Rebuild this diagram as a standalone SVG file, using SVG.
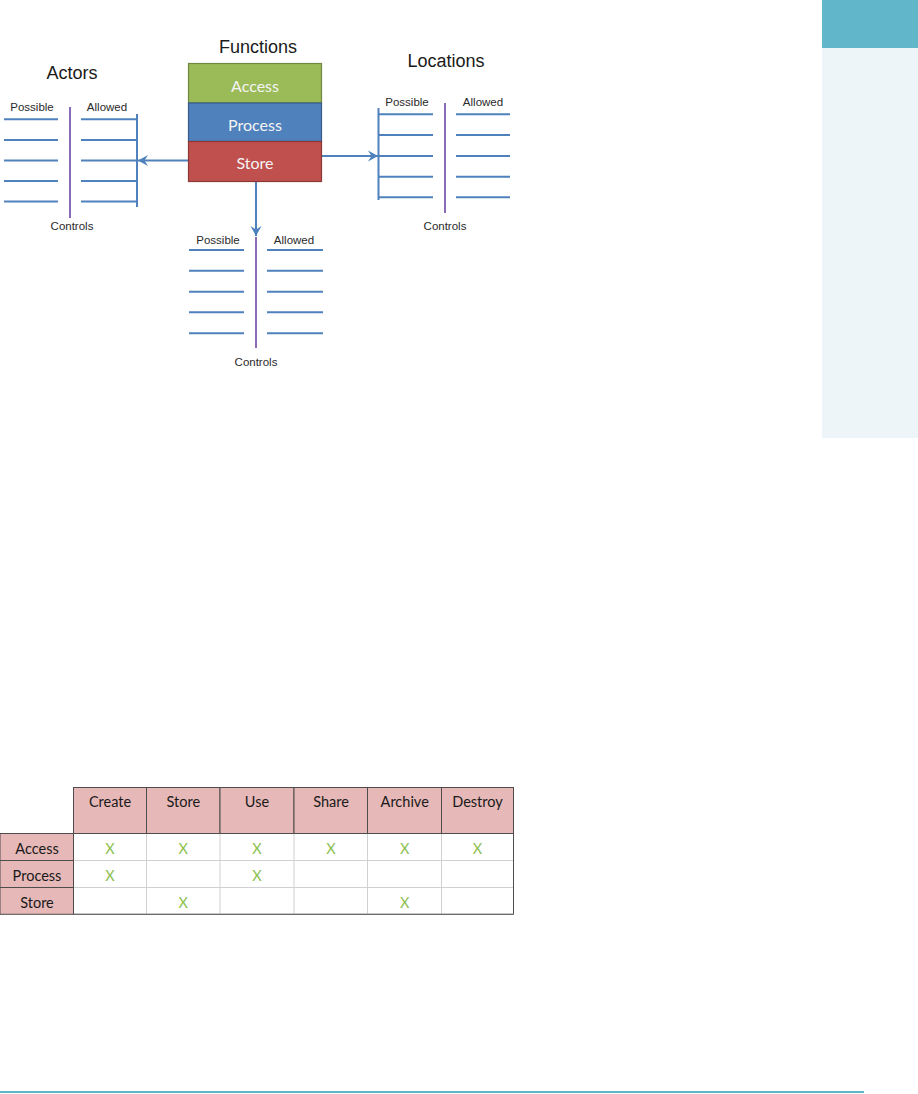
<svg xmlns="http://www.w3.org/2000/svg" width="918" height="1094" viewBox="0 0 918 1094">
<style>
.title{font-family:"Liberation Sans",Arial,sans-serif;font-size:18px;fill:#1a1a1a;text-anchor:middle}
.lab{font-family:"Liberation Sans",Arial,sans-serif;font-size:11.5px;fill:#2a2a2a;text-anchor:middle}
.bl{stroke:#4F81BD;stroke-width:2;fill:none}
.pu{stroke:#8A6BB8;stroke-width:2;fill:none}
.boxt{font-family:Lato,"Open Sans",sans-serif;font-size:16px;fill:#F4F4F4;text-anchor:middle}
.tt{font-family:Lato,"Open Sans",sans-serif;font-size:14.5px;fill:#1a1a1a;text-anchor:middle}
.x{font-family:Lato,"Open Sans",sans-serif;font-size:14.5px;fill:#8DBF4F;text-anchor:middle}
.hd{fill:#E6B8B7;stroke:#4D4D4D;stroke-width:1}
.cell{fill:#FFFFFF;stroke:#D0D0D0;stroke-width:1}
.conn{stroke:#4F81BD;stroke-width:2;fill:none;marker-end:url(#ah)}
</style>
<defs>
<marker id="ah" markerUnits="userSpaceOnUse" markerWidth="14" markerHeight="14" refX="11" refY="7" orient="auto">
<path d="M1,1.5 L11,7 L1,12.5 L4.5,7 Z" fill="#4F81BD"/>
</marker>
</defs>
<rect width="918" height="1094" fill="#FFFFFF"/>
<g id="sidebar">
<rect x="822" y="0" width="96" height="48" fill="#62B6C9"/>
<rect x="822" y="48" width="96" height="390" fill="#EEF5F8"/>
</g>
<line x1="0" y1="1092" x2="864" y2="1092" stroke="#62B6C9" stroke-width="2"/>

<g id="connectors">
<line class="conn" x1="189" y1="160.5" x2="138" y2="160.5"/>
<line class="conn" x1="322" y1="156" x2="378" y2="156"/>
<line class="conn" x1="256" y1="182" x2="256" y2="236"/>
</g>

<g id="functions">
<text class="title" x="258" y="53">Functions</text>
<rect x="188.5" y="63.5" width="133" height="39.5" fill="#9BBB59" stroke="#71893F" stroke-width="1.2"/>
<text class="boxt" x="255" y="91.5">Access</text>
<rect x="188.5" y="103" width="133" height="38.5" fill="#4F81BD" stroke="#385D8A" stroke-width="1.2"/>
<text class="boxt" x="255" y="130.5">Process</text>
<rect x="188.5" y="141.5" width="133" height="40" fill="#C0504D" stroke="#8C3836" stroke-width="1.2"/>
<text class="boxt" x="255" y="169">Store</text>
</g>

<g id="actors">
<text class="title" x="72" y="79">Actors</text>
<text class="lab" x="32" y="111">Possible</text>
<text class="lab" x="107" y="111">Allowed</text>
<path class="bl" d="M4,119.3H58M4,140H58M4,160.5H58M4,181H58M4,201.5H58"/>
<path class="bl" d="M81,119.3H137M81,140H137M81,160.5H137M81,181H137M81,201.5H137M137,114V207"/>
<line class="pu" x1="70" y1="107" x2="70" y2="218"/>
<text class="lab" x="72" y="230">Controls</text>
</g>

<g id="locations">
<text class="title" x="446" y="67">Locations</text>
<text class="lab" x="407" y="106">Possible</text>
<text class="lab" x="483" y="106">Allowed</text>
<path class="bl" d="M378.5,108V200M378.5,114.3H433M378.5,135H433M378.5,156H433M378.5,176.7H433M378.5,197.3H433"/>
<path class="bl" d="M456,114.3H510M456,135H510M456,156H510M456,176.7H510M456,197.3H510"/>
<line class="pu" x1="445" y1="103" x2="445" y2="213"/>
<text class="lab" x="445" y="230">Controls</text>
</g>

<g id="bottom-controls">
<text class="lab" x="218" y="244">Possible</text>
<text class="lab" x="294" y="244">Allowed</text>
<path class="bl" d="M189,250H244M189,270.7H244M189,291.7H244M189,312.3H244M189,333.3H244"/>
<path class="bl" d="M267,250H323M267,270.7H323M267,291.7H323M267,312.3H323M267,333.3H323"/>
<line class="pu" x1="256" y1="237" x2="256" y2="348"/>
<text class="lab" x="256" y="366">Controls</text>
</g>

<g id="table">
<rect class="cell" x="73.5" y="833.5" width="440" height="80.5"/>
<path d="M73.5,860.5H513.5M73.5,887.5H513.5M146.5,833.5V914M220,833.5V914M294,833.5V914M367.5,833.5V914M441.5,833.5V914" stroke="#D0D0D0" stroke-width="1"/>
<path d="M513.5,833.5V914.3M73.5,914.3H513.5" stroke="#4D4D4D" stroke-width="1"/>
<rect class="hd" x="73.5" y="787.5" width="73" height="46"/>
<rect class="hd" x="146.5" y="787.5" width="73.5" height="46"/>
<rect class="hd" x="220" y="787.5" width="74" height="46"/>
<rect class="hd" x="294" y="787.5" width="73.5" height="46"/>
<rect class="hd" x="367.5" y="787.5" width="74" height="46"/>
<rect class="hd" x="441.5" y="787.5" width="72" height="46"/>
<rect class="hd" x="0" y="833.5" width="73.5" height="27"/>
<rect class="hd" x="0" y="860.5" width="73.5" height="27"/>
<rect class="hd" x="0" y="887.5" width="73.5" height="26.8"/>
<text class="tt" x="110" y="807">Create</text>
<text class="tt" x="183.3" y="807">Store</text>
<text class="tt" x="257" y="807">Use</text>
<text class="tt" x="331" y="807">Share</text>
<text class="tt" x="404.7" y="807">Archive</text>
<text class="tt" x="477.5" y="807">Destroy</text>
<text class="tt" x="37" y="854">Access</text>
<text class="tt" x="37" y="881">Process</text>
<text class="tt" x="37" y="907.5">Store</text>
<text class="x" x="110" y="854">X</text>
<text class="x" x="183.3" y="854">X</text>
<text class="x" x="257" y="854">X</text>
<text class="x" x="331" y="854">X</text>
<text class="x" x="404.7" y="854">X</text>
<text class="x" x="477.5" y="854">X</text>
<text class="x" x="110" y="881">X</text>
<text class="x" x="257" y="881">X</text>
<text class="x" x="183.3" y="907.5">X</text>
<text class="x" x="404.7" y="907.5">X</text>
</g>
</svg>
